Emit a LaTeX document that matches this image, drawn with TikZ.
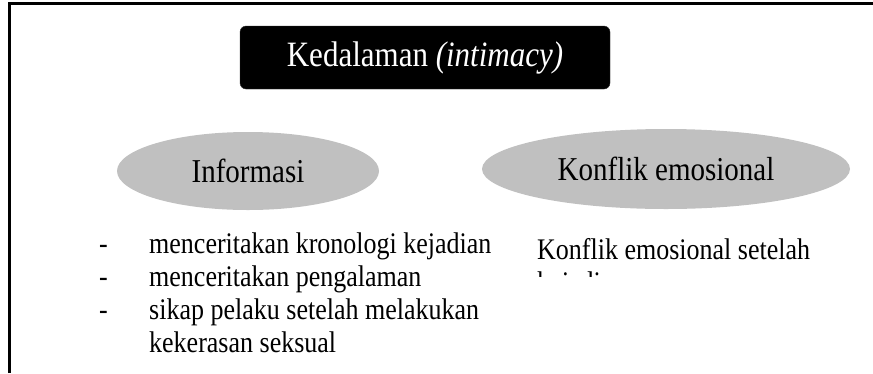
\documentclass[tikz,border=0pt]{standalone}
\usepackage{graphicx}
\usepackage{fontspec}
\setmainfont{Liberation Serif}
\usetikzlibrary{shapes.geometric}
\definecolor{ovalgray}{RGB}{192,192,192}
\newcommand\vstretch[1]{\scalebox{1}[1.15]{#1}}
\begin{document}
\begin{tikzpicture}[x=1pt,y=-1pt,
  frameline/.style={line width=2.5pt,black},
  titlebox/.style={fill=black,draw=black!80,rounded corners=6pt,minimum width=370pt,minimum height=63pt,inner sep=0pt,text=white,font=\fontsize{31}{36}\selectfont},
  oval/.style={ellipse,fill=ovalgray,inner sep=0pt,font=\fontsize{29}{34}\selectfont},
  listtext/.style={anchor=base west,inner sep=0pt,font=\fontsize{26}{30}\selectfont}
]
\useasboundingbox (0,0) rectangle (873,373);
\coordinate (fs) at (9.5,373);
\coordinate (fc) at (9.5,3.5);
\coordinate (fe) at (873,3.5);
\draw[frameline] (fs) -- (fc) -- (fe);

\node[titlebox] (title) at (425,57.5) {\vstretch{Kedalaman \textit{(intimacy)}}};

\node[oval,minimum width=262pt,minimum height=78pt] (info) at (248,171) {\vstretch{Informasi}};
\node[oval,minimum width=368pt,minimum height=80pt] (konf) at (666,169) {\vstretch{Konflik emosional}};

\node[listtext] (d1) at (99,253) {\vstretch{-}};
\node[listtext] (l1) at (149,253) {\vstretch{menceritakan kronologi kejadian}};
\node[listtext] (d2) at (99,286) {\vstretch{-}};
\node[listtext] (l2) at (149,286) {\vstretch{menceritakan pengalaman}};
\node[listtext] (d3) at (99,319) {\vstretch{-}};
\node[listtext] (l3) at (149,319) {\vstretch{sikap pelaku setelah melakukan}};
\node[listtext] (l4) at (149,352) {\vstretch{kekerasan seksual}};

\node[listtext] (k1) at (537,259) {\vstretch{Konflik emosional setelah}};
\begin{scope}
\clip (530,271) rectangle (720,276);
\node[listtext] (k2) at (537,292) {\vstretch{kejadian}};
\end{scope}
\end{tikzpicture}
\end{document}
